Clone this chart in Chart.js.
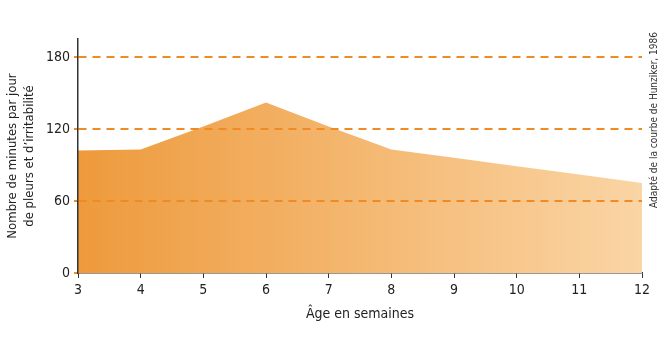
<!DOCTYPE html>
<html>
<head>
<meta charset="utf-8">
<script src="https://cdn.jsdelivr.net/npm/chart.js@4"></script>
<style>
  html, body { margin: 0; padding: 0; background: #fff; }
  #wrap { width: 670px; height: 351px; position: relative; }
</style>
</head>
<body>
<div id="wrap"><canvas id="cryChart" width="670" height="351"></canvas></div>
<script>
const weeks = ['3', '4', '5', '6', '7', '8', '9', '10', '11', '12'];
const minutesPerDay = [102, 103, 122, 142, 122, 103, 96, 89, 82, 75];
const yTicks = [0, 60, 120, 180];
const sourceNote = 'Adapté de la courbe de Hunziker, 1986';

const fontFamily = '"Liberation Sans Narrow", "DejaVu Sans Condensed", "Noto Sans", sans-serif';

const notePlugin = {
  id: 'sourceNote',
  afterDraw(chart) {
    const c = chart.ctx;
    c.save();
    c.translate(654, 120);
    c.rotate(-Math.PI / 2);
    c.font = '10px ' + fontFamily;
    c.fillStyle = '#333';
    c.textAlign = 'center';
    c.textBaseline = 'middle';
    c.fillText(sourceNote, 0, 0);
    c.restore();
  }
};

const ctx = document.getElementById('cryChart').getContext('2d');
new Chart(ctx, {
  type: 'line',
  data: {
    labels: weeks,
    datasets: [{
      data: minutesPerDay,
      fill: 'origin',
      borderWidth: 0,
      borderColor: 'rgba(0,0,0,0)',
      pointRadius: 0,
      tension: 0,
      backgroundColor: function (context) {
        const area = context.chart.chartArea;
        if (!area) return '#F0A050';
        const g = context.chart.ctx.createLinearGradient(area.left, 0, area.right, 0);
        g.addColorStop(0, '#EE9A3C');
        g.addColorStop(1, '#FAD5A5');
        return g;
      }
    }]
  },
  options: {
    responsive: false,
    animation: false,
    layout: { padding: { left: 0, right: 28, top: 39, bottom: 28 } },
    plugins: {
      legend: { display: false },
      tooltip: { enabled: false }
    },
    scales: {
      x: {
        offset: false,
        afterFit: function (scale) { scale.height = 50; },
        grid: {
          display: true,
          drawOnChartArea: false,
          drawTicks: true,
          tickLength: 5,
          tickColor: '#333'
        },
        border: { display: true, color: '#333', width: 1.5 },
        ticks: {
          color: '#222',
          font: { family: fontFamily, size: 14 },
          padding: 4,
          maxRotation: 0
        },
        title: {
          display: true,
          text: 'Âge en semaines',
          color: '#222',
          font: { family: fontFamily, size: 14 },
          padding: { top: 0, bottom: 0 }
        }
      },
      y: {
        min: 0,
        max: 195,
        afterFit: function (scale) { scale.width = 78; },
        afterBuildTicks: function (scale) {
          scale.ticks = yTicks.map(v => ({ value: v }));
        },
        grid: {
          z: 1,
          color: function (c) { return c.tick && c.tick.value === 0 ? 'rgba(0,0,0,0)' : '#F08A24'; },
          lineWidth: 2,
          tickColor: '#F08A24',
          tickLength: 4
        },
        border: { display: true, z: 2, color: '#333', width: 1.5, dash: [8, 6] },
        ticks: {
          color: '#222',
          font: { family: fontFamily, size: 14 },
          padding: 4
        },
        title: {
          display: true,
          text: ['Nombre de minutes par jour', 'de pleurs et d\u2019irritabilité'],
          color: '#222',
          font: { family: fontFamily, size: 13, lineHeight: 1.3 },
          padding: { bottom: 6 }
        }
      }
    }
  },
  plugins: [notePlugin]
});
</script>
</body>
</html>
